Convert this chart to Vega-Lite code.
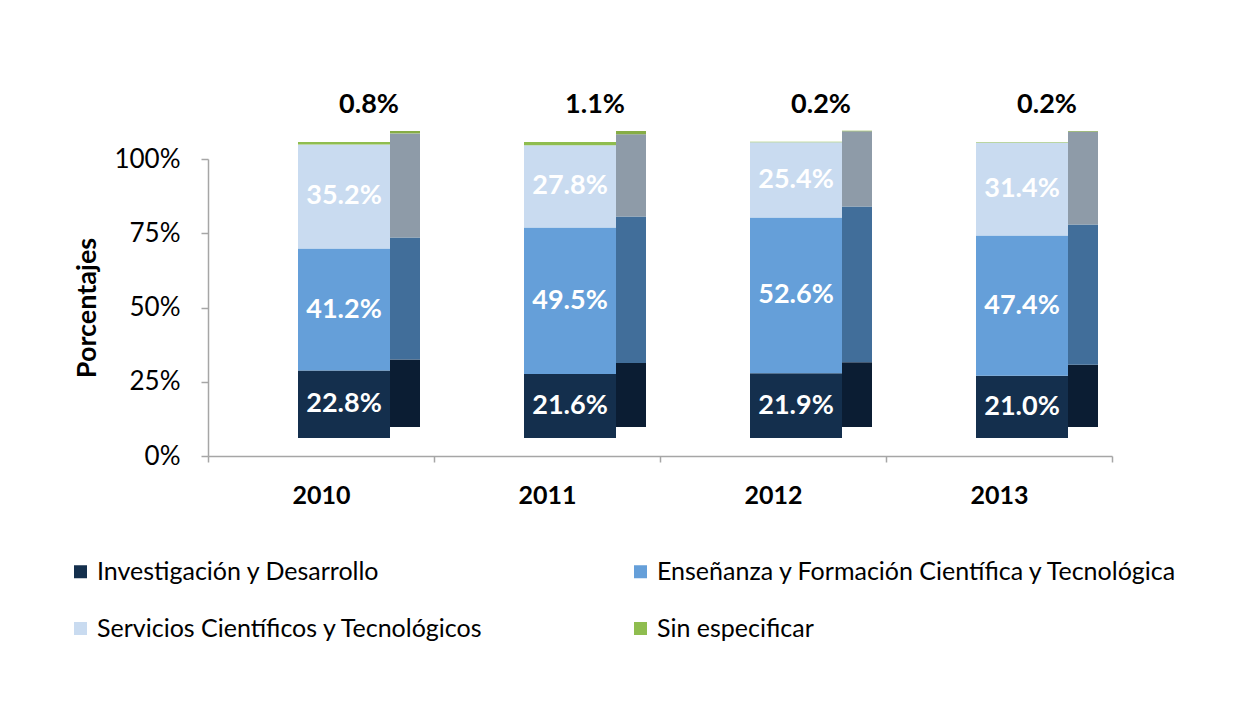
{
  "$schema": "https://vega.github.io/schema/vega-lite/v6.json",
  "width": 904,
  "height": 297,
  "autosize": {"type": "none"},
  "padding": {"left": 208, "top": 159, "right": 132, "bottom": 263},
  "background": "white",
  "config": {"view": {"stroke": null}, "font": "Lato"},
  "data": {
    "values": [
      {"anio": "2010", "serie": "Investigación y Desarrollo", "valor": 22.8},
      {"anio": "2010", "serie": "Enseñanza y Formación Científica y Tecnológica", "valor": 41.2},
      {"anio": "2010", "serie": "Servicios Científicos y Tecnológicos", "valor": 35.2},
      {"anio": "2010", "serie": "Sin especificar", "valor": 0.8},
      {"anio": "2011", "serie": "Investigación y Desarrollo", "valor": 21.6},
      {"anio": "2011", "serie": "Enseñanza y Formación Científica y Tecnológica", "valor": 49.5},
      {"anio": "2011", "serie": "Servicios Científicos y Tecnológicos", "valor": 27.8},
      {"anio": "2011", "serie": "Sin especificar", "valor": 1.1},
      {"anio": "2012", "serie": "Investigación y Desarrollo", "valor": 21.9},
      {"anio": "2012", "serie": "Enseñanza y Formación Científica y Tecnológica", "valor": 52.6},
      {"anio": "2012", "serie": "Servicios Científicos y Tecnológicos", "valor": 25.4},
      {"anio": "2012", "serie": "Sin especificar", "valor": 0.2},
      {"anio": "2013", "serie": "Investigación y Desarrollo", "valor": 21.0},
      {"anio": "2013", "serie": "Enseñanza y Formación Científica y Tecnológica", "valor": 47.4},
      {"anio": "2013", "serie": "Servicios Científicos y Tecnológicos", "valor": 31.4},
      {"anio": "2013", "serie": "Sin especificar", "valor": 0.2}
    ]
  },
  "transform": [
    {"calculate": "indexof(['Investigación y Desarrollo','Enseñanza y Formación Científica y Tecnológica','Servicios Científicos y Tecnológicos','Sin especificar'], datum.serie)", "as": "k"},
    {"stack": "valor", "groupby": ["anio"], "sort": [{"field": "k", "order": "ascending"}], "as": ["y0", "y1"]},
    {"calculate": "(datum.y0 + datum.y1) / 2", "as": "ymid"},
    {"calculate": "format(datum.valor, '.1f') + '%'", "as": "etiqueta"},
    {"calculate": "datum.serie", "as": "cara"}
  ],
  "encoding": {
    "x": {
      "field": "anio", "type": "nominal",
      "scale": {"paddingInner": 0, "paddingOuter": 0},
      "axis": {
        "title": null, "labelAngle": 0, "labelFontSize": 25, "labelFontWeight": "bold",
        "labelColor": "black", "tickBand": "extent", "tickSize": 6, "tickColor": "#a6a6a6",
        "domainColor": "#a6a6a6", "domainWidth": 1.5, "tickWidth": 1.5, "labelPadding": 21
      }
    }
  },
  "layer": [
    {
      "mark": {"type": "tick", "opacity": 0},
      "encoding": {
        "y": {
          "field": "y1", "type": "quantitative",
          "scale": {"domain": [0, 100]},
          "axis": {
            "values": [0, 25, 50, 75, 100], "labelExpr": "datum.value + '%'",
            "labelFontSize": 26, "labelColor": "black", "tickSize": 7, "tickColor": "#a6a6a6",
            "tickWidth": 1.5, "domainColor": "#a6a6a6", "domainWidth": 1.5, "grid": false,
            "title": "Porcentajes", "titleFontSize": 27, "titleFontWeight": "bold",
            "titleColor": "black", "titlePadding": 12, "labelPadding": 21
          }
        }
      }
    },
    {
      "layer": [
        {
          "mark": {"type": "bar", "width": 30, "xOffset": 84, "yOffset": -11, "y2Offset": -11},
          "encoding": {
            "y": {"field": "y0", "type": "quantitative", "scale": {"domain": [-6.08, 94.26]}, "axis": null},
            "y2": {"field": "y1"},
            "color": {
              "field": "cara", "type": "nominal",
              "scale": {
                "domain": ["Investigación y Desarrollo", "Servicios Científicos y Tecnológicos", "Enseñanza y Formación Científica y Tecnológica", "Sin especificar"],
                "range": ["#0b1d33", "#8e9ba8", "#416e9a", "#86ad45"]
              },
              "legend": null
            }
          }
        },
        {
          "mark": {"type": "bar", "width": 92, "xOffset": 23},
          "encoding": {
            "y": {"field": "y0", "type": "quantitative", "scale": {"domain": [-6.08, 94.26]}, "axis": null},
            "y2": {"field": "y1"},
            "color": {
              "field": "serie", "type": "nominal",
              "scale": {
                "domain": ["Investigación y Desarrollo", "Servicios Científicos y Tecnológicos", "Enseñanza y Formación Científica y Tecnológica", "Sin especificar"],
                "range": ["#142f4d", "#c9dbf0", "#659fd9", "#8fbd4f"]
              },
              "legend": {
                "orient": "none", "legendX": -140, "legendY": 400, "columns": 2,
                "columnPadding": 144, "rowPadding": 31, "symbolType": "square",
                "symbolSize": 169, "symbolStrokeWidth": 0, "labelFontSize": 25,
                "labelColor": "black", "title": null, "labelLimit": 800, "labelOffset": 4
              }
            }
          }
        },
        {
          "transform": [{"filter": "datum.serie != 'Sin especificar'"}],
          "mark": {"type": "text", "xOffset": 23, "color": "white", "fontWeight": "bold", "fontSize": 27},
          "encoding": {
            "y": {"field": "ymid", "type": "quantitative", "scale": {"domain": [-6.08, 94.26]}, "axis": null},
            "text": {"field": "etiqueta"}
          }
        },
        {
          "transform": [{"filter": "datum.serie == 'Sin especificar'"}],
          "mark": {"type": "text", "xOffset": 48, "dy": -23, "baseline": "bottom", "color": "black", "fontWeight": "bold", "fontSize": 27},
          "encoding": {
            "y": {"field": "y1", "type": "quantitative", "scale": {"domain": [-6.08, 94.26]}, "axis": null},
            "text": {"field": "etiqueta"}
          }
        }
      ],
      "resolve": {"scale": {"color": "independent"}, "legend": {"color": "independent"}}
    }
  ],
  "resolve": {"scale": {"y": "independent"}}
}
